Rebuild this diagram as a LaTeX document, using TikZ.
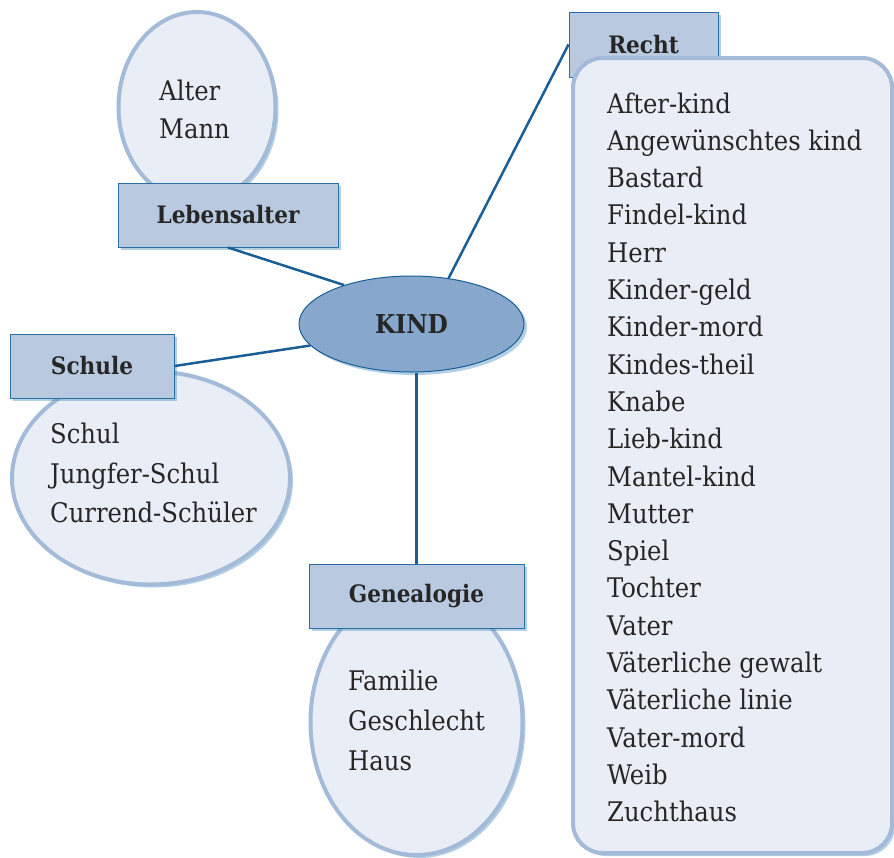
\documentclass[tikz,border=0pt]{standalone}
\usepackage{fontspec}
\setmainfont{DejaVu Serif Condensed}
\usetikzlibrary{shapes.geometric,shadows}
\definecolor{pale}{HTML}{E9EEF6}
\definecolor{rim}{HTML}{A3BBD8}
\definecolor{boxfill}{HTML}{B8C9E0}
\definecolor{boxline}{HTML}{2A70A3}
\definecolor{kindfill}{HTML}{88A7CC}
\definecolor{conn}{HTML}{1A5E97}
\definecolor{glow}{HTML}{3F86B8}
\tikzset{
  sh/.style={drop shadow={fill=glow,opacity=0.4,shadow xshift=3pt,shadow yshift=-3pt}},
  bubble/.style={ellipse,draw=rim,line width=4pt,fill=pale,inner sep=0pt,sh},
  labelbox/.style={rectangle,draw=boxline,line width=1pt,fill=boxfill,inner sep=0pt,sh,
    font=\fontsize{24}{28}\selectfont\bfseries,text=black!85},
  item/.style={anchor=base west,inner sep=0pt,font=\fontsize{27}{32}\selectfont,text=black!85},
  conline/.style={draw=conn,line width=2.5pt},
}
\begin{document}
\begin{tikzpicture}[x=1pt,y=-1pt]
\useasboundingbox (0,0) rectangle (894,857);
% Lebensalter group
\node[bubble,minimum width=157,minimum height=190] (alterE) at (197,107) {};
\node[item] (t1) at (159,100) {Alter};
\node[item] (t2) at (159,138) {Mann};
\node[labelbox,minimum width=220,minimum height=64] (leb) at (228,215) {Lebensalter};
% Recht group
\node[labelbox,minimum width=149,minimum height=65] (recht) at (643.5,44.5) {Recht};
\node[rectangle,draw=rim,line width=4pt,fill=pale,rounded corners=30pt,sh,
  minimum width=319,minimum height=795,inner sep=0pt] (list) at (732.5,455.5) {};
\foreach \t [count=\i] in {After-kind,Angewünschtes kind,Bastard,Findel-kind,Herr,Kinder-geld,Kinder-mord,Kindes-theil,Knabe,Lieb-kind,Mantel-kind,Mutter,Spiel,Tochter,Vater,Väterliche gewalt,Väterliche linie,Vater-mord,Weib,Zuchthaus}
  \node[item] (r\i) at (607,{113+37.3*(\i-1)}) {\t};
% Schule group
\node[bubble,minimum width=278,minimum height=213] (schulE) at (151,478) {};
\node[labelbox,minimum width=164,minimum height=64] (schule) at (92,366) {Schule};
\node[item] (s1) at (50,443) {Schul};
\node[item] (s2) at (50,483) {Jungfer-Schul};
\node[item] (s3) at (50,522) {Currend-Schüler};
% Genealogie group
\node[bubble,minimum width=212,minimum height=266] (genE) at (416.5,722) {};
\node[labelbox,minimum width=215,minimum height=64] (gen) at (416.5,596) {Genealogie};
\node[item] (g1) at (348,690) {Familie};
\node[item] (g2) at (348,730) {Geschlecht};
\node[item] (g3) at (348,770) {Haus};
% center
\node[ellipse,draw=conn,line width=1pt,fill=kindfill,minimum width=225,minimum height=96,inner sep=0pt,sh,
  font=\fontsize{26}{30}\selectfont\bfseries,text=black!85] (kind) at (411.5,324) {KIND};
% connectors
\draw[conline] (kind.150) -- (leb.south);
\draw[conline] (kind.192) -- (schule.east);
\draw[conline] (kind.51) -- (recht.west);
\draw[conline] (gen.north) -- (gen.north |- kind.south);
\end{tikzpicture}
\end{document}
